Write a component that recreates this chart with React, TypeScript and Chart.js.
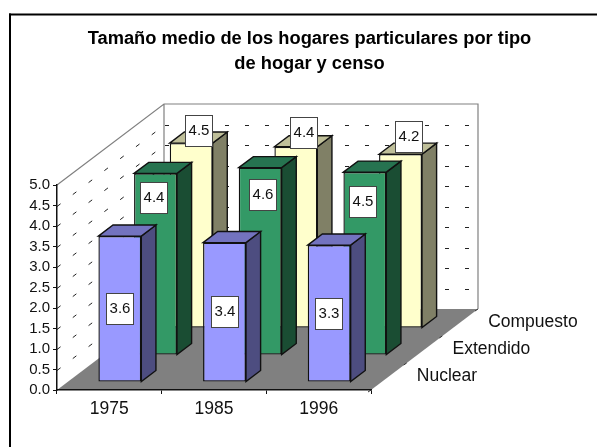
import React, { useEffect, useRef } from "react";
import { Chart, registerables } from "chart.js";

Chart.register(...registerables);

const censusYears = ["1975", "1985", "1996"];
const seriesNames = ["Nuclear", "Extendido", "Compuesto"];
const nuclearValues = [3.56, 3.4, 3.34];
const extendidoValues = [4.43, 4.57, 4.46];
const compuestoValues = [4.51, 4.42, 4.24];
const titleLines = [
  "Tamaño medio de los hogares particulares por tipo",
  "de hogar y censo",
];

// Level on the value axis (and pixel nudge) at which each data label box is centred.
const labelLevels = [
  [1.77, 1.71, 1.66],
  [3.84, 3.91, 3.74],
  [4.8, 4.76, 4.67],
];
const labelNudgeX = [
  [0, 0, 0],
  [-1.5, 2.5, -2],
  [8, 8, 8],
];

const faceColors = [
  { front: "#9999FF", side: "#4D4D80", top: "#7373BF" },
  { front: "#339966", side: "#1A4D33", top: "#267350" },
  { front: "#FFFFCC", side: "#808066", top: "#BFBF99" },
];

const FONT = '"Liberation Sans", Arial, sans-serif';
const INK = "#111111";
const DEPTH_X = 107;
const DEPTH_Y = 81;
const BAR_FRACTION = 0.41;

const rowOffset = (row: number) => {
  const t = (row + (1 - BAR_FRACTION) / 2) / seriesNames.length;
  return { dx: DEPTH_X * t, dy: -DEPTH_Y * t };
};

const barDepth = {
  dx: (DEPTH_X * BAR_FRACTION) / seriesNames.length,
  dy: (-DEPTH_Y * BAR_FRACTION) / seriesNames.length,
};

const poly = (ctx: CanvasRenderingContext2D, pts: number[][]) => {
  ctx.beginPath();
  pts.forEach(([x, y], i) => (i ? ctx.lineTo(x, y) : ctx.moveTo(x, y)));
  ctx.closePath();
};

const scene3d = {
  id: "scene3d",
  beforeDraw(chart: any) {
    const { ctx, chartArea: a, scales } = chart;
    const y = scales.y;
    ctx.save();
    ctx.fillStyle = "#FFFFFF";
    ctx.fillRect(0, 0, chart.width, chart.height);

    // outer chart frame
    ctx.fillStyle = "#000000";
    ctx.fillRect(9, 13.5, chart.width - 9, 2);
    ctx.fillRect(9, 13.5, 2, chart.height - 13.5);

    // floor
    ctx.fillStyle = "#808080";
    poly(ctx, [
      [a.left, a.bottom],
      [a.right, a.bottom],
      [a.right + DEPTH_X, a.bottom - DEPTH_Y],
      [a.left + DEPTH_X, a.bottom - DEPTH_Y],
    ]);
    ctx.fill();

    // dashed grid on both walls
    ctx.strokeStyle = "#222222";
    ctx.lineWidth = 1;
    y.ticks.forEach((t: any) => {
      if (t.value <= 0 || t.value >= y.max) return;
      const py = Math.round(y.getPixelForValue(t.value)) + 0.5;
      ctx.setLineDash([4.5, 15.3]);
      ctx.beginPath();
      ctx.moveTo(a.left, py);
      ctx.lineTo(a.left + DEPTH_X, py - DEPTH_Y);
      ctx.stroke();
      ctx.setLineDash([4, 16]);
      ctx.beginPath();
      ctx.moveTo(a.left + DEPTH_X + 1, py - DEPTH_Y);
      ctx.lineTo(a.right + DEPTH_X, py - DEPTH_Y);
      ctx.stroke();
    });
    ctx.setLineDash([]);

    // wall outlines
    ctx.strokeStyle = "#808080";
    ctx.lineWidth = 1.2;
    ctx.beginPath();
    ctx.moveTo(a.left, a.top);
    ctx.lineTo(a.left + DEPTH_X, a.top - DEPTH_Y);
    ctx.lineTo(a.right + DEPTH_X, a.top - DEPTH_Y);
    ctx.lineTo(a.right + DEPTH_X, a.bottom - DEPTH_Y);
    ctx.moveTo(a.left + DEPTH_X, a.top - DEPTH_Y);
    ctx.lineTo(a.left + DEPTH_X, a.bottom - DEPTH_Y);
    ctx.stroke();

    // depth axis ticks
    ctx.strokeStyle = "#333333";
    ctx.lineWidth = 1;
    for (let i = 0; i <= seriesNames.length; i++) {
      const t = i / seriesNames.length;
      const px = a.right + DEPTH_X * t;
      const py = a.bottom - DEPTH_Y * t;
      ctx.beginPath();
      ctx.moveTo(px, py);
      ctx.lineTo(px - 3, py + 2);
      ctx.stroke();
    }
    ctx.restore();
  },
  beforeDatasetDraw(chart: any, args: any) {
    const { ctx } = chart;
    const { dx, dy } = rowOffset(args.index);
    const colors = faceColors[args.index];
    ctx.save();
    ctx.translate(dx, dy);
    ctx.strokeStyle = INK;
    ctx.lineWidth = 1.4;
    ctx.lineJoin = "miter";
    args.meta.data.forEach((bar: any) => {
      const p = bar.getProps(["x", "y", "base", "width"], true);
      const l = p.x - p.width / 2;
      const r = p.x + p.width / 2;
      ctx.fillStyle = colors.side;
      poly(ctx, [
        [r, p.base],
        [r, p.y],
        [r + barDepth.dx, p.y + barDepth.dy],
        [r + barDepth.dx, p.base + barDepth.dy],
      ]);
      ctx.fill();
      ctx.stroke();
      ctx.fillStyle = colors.top;
      poly(ctx, [
        [l, p.y],
        [l + barDepth.dx, p.y + barDepth.dy],
        [r + barDepth.dx, p.y + barDepth.dy],
        [r, p.y],
      ]);
      ctx.fill();
      ctx.stroke();
    });
  },
  afterDatasetDraw(chart: any) {
    chart.ctx.restore();
  },
  afterDatasetsDraw(chart: any) {
    const { ctx, scales } = chart;
    ctx.save();
    ctx.font = `15px ${FONT}`;
    ctx.textAlign = "center";
    ctx.textBaseline = "middle";
    chart.data.datasets.forEach((ds: any, row: number) => {
      const { dx, dy } = rowOffset(row);
      chart.getDatasetMeta(row).data.forEach((bar: any, i: number) => {
        const cx = Math.round(bar.x + dx + labelNudgeX[row][i]);
        const cy = Math.round(scales.y.getPixelForValue(labelLevels[row][i]) + dy);
        ctx.fillStyle = "#FFFFFF";
        ctx.fillRect(cx - 14, cy - 16, 28, 32);
        ctx.strokeStyle = "#444444";
        ctx.lineWidth = 1;
        ctx.strokeRect(cx - 14 + 0.5, cy - 16 + 0.5, 27, 31);
        ctx.fillStyle = INK;
        ctx.fillText(ds.data[i].toFixed(1), cx, cy);
      });
    });
    ctx.restore();
  },
  afterDraw(chart: any) {
    const { ctx, chartArea: a } = chart;
    ctx.save();
    ctx.font = `17.5px ${FONT}`;
    ctx.fillStyle = INK;
    ctx.textAlign = "left";
    ctx.textBaseline = "middle";
    seriesNames.forEach((name, row) => {
      const t = (row + 0.5) / seriesNames.length;
      ctx.fillText(name, a.right + DEPTH_X * t + 28, a.bottom - DEPTH_Y * t);
    });
    ctx.restore();
  },
};

const seriesValues = [nuclearValues, extendidoValues, compuestoValues];

export default function App() {
  const ref = useRef<HTMLCanvasElement>(null);
  useEffect(() => {
    document.body.style.margin = "0";
    const chart = new Chart(ref.current!, {
      type: "bar",
      plugins: [scene3d],
      data: {
        labels: censusYears,
        datasets: seriesNames.map((label, i) => ({
          label,
          data: seriesValues[i],
          backgroundColor: faceColors[i].front,
          borderColor: INK,
          borderWidth: 1.4,
          borderSkipped: false,
          grouped: false,
          clip: false,
          barPercentage: BAR_FRACTION,
          categoryPercentage: 1,
        })),
      },
      options: {
        responsive: false,
        animation: false,
        layout: { padding: { left: 22, right: 0, top: 26, bottom: 0 } },
        plugins: {
          legend: { display: false },
          tooltip: { enabled: false },
          title: {
            display: true,
            text: titleLines,
            color: "#000000",
            font: { family: FONT, size: 18.3, weight: "bold", lineHeight: 25 / 18.3 },
            padding: { top: 0, bottom: 109 },
          },
        },
        scales: {
          x: {
            grid: { drawOnChartArea: false, drawTicks: true, tickLength: 4, color: INK, offset: true },
            border: { color: INK, width: 1.5 },
            ticks: { color: INK, font: { family: FONT, size: 17.5 }, padding: 5, maxRotation: 0 },
            afterFit: (s: any) => {
              s.height = 57;
            },
          },
          y: {
            min: 0,
            max: 5,
            grid: { drawOnChartArea: false, drawTicks: true, tickLength: 4, color: INK },
            border: { color: INK, width: 1.5 },
            ticks: {
              stepSize: 0.5,
              autoSkip: false,
              color: INK,
              font: { family: FONT, size: 15 },
              padding: 3,
              callback: (v: any) => Number(v).toFixed(1),
            },
            afterFit: (s: any) => {
              s.width = 35;
            },
          },
          depth: {
            type: "category",
            labels: seriesNames,
            position: "right",
            grid: { display: false },
            border: { display: false },
            ticks: { display: false },
            afterFit: (s: any) => {
              s.width = 226;
            },
          },
        },
      } as any,
    });
    return () => chart.destroy();
  }, []);
  return <canvas ref={ref} width={597} height={447} style={{ display: "block" }} />;
}
